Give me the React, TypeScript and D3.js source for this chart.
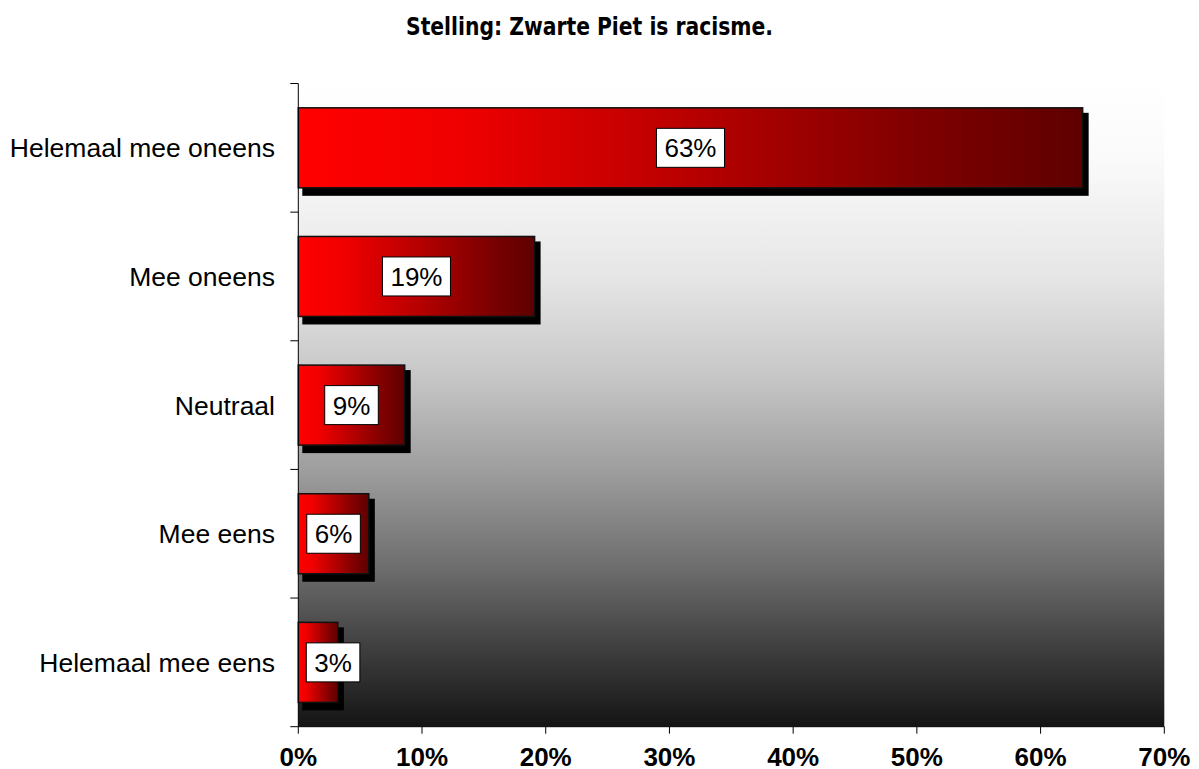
import React from "react";
import * as d3 from "d3";

const categories = [
  "Helemaal mee oneens",
  "Mee oneens",
  "Neutraal",
  "Mee eens",
  "Helemaal mee eens",
];
const values = [63.4, 19.1, 8.6, 5.7, 3.2];
const valueLabels = ["63%", "19%", "9%", "6%", "3%"];
const xTicks = [0, 10, 20, 30, 40, 50, 60, 70];
const title = "Stelling: Zwarte Piet is racisme.";

const W = 1199;
const H = 769;
const plot = { left: 298.3, right: 1164.3, top: 83.5, bottom: 726.7 };

export default function App() {
  const x = d3.scaleLinear().domain([0, 70]).range([plot.left, plot.right]);
  const y = d3
    .scaleBand<string>()
    .domain(categories)
    .range([plot.top, plot.bottom])
    .paddingInner(0.378)
    .paddingOuter(0.189);
  const step = y.step();
  const boundaries = d3.range(categories.length + 1).map((i) => plot.top + i * step);

  const charW = (s: string) => {
    let w = 0;
    for (const c of s) w += c === "%" ? 0.889 : 0.556;
    return w * 26;
  };

  return (
    <svg
      width={W}
      height={H}
      style={{ position: "absolute", left: 0, top: 0, background: "#fff" }}
      fontFamily="Arial, 'Liberation Sans', sans-serif"
    >
      <defs>
        <linearGradient id="bg" x1="0" y1="0" x2="0" y2="1">
          <stop offset="0" stopColor="#ffffff" />
          <stop offset="0.12" stopColor="#fafafa" />
          <stop offset="0.3" stopColor="#e6e6e6" />
          <stop offset="0.45" stopColor="#c8c8c8" />
          <stop offset="0.6" stopColor="#9e9e9e" />
          <stop offset="0.75" stopColor="#6e6e6e" />
          <stop offset="0.88" stopColor="#3e3e3e" />
          <stop offset="1" stopColor="#141414" />
        </linearGradient>
        <linearGradient id="bar" x1="0" y1="0" x2="1" y2="0">
          <stop offset="0" stopColor="#ff0000" />
          <stop offset="0.2" stopColor="#f00000" />
          <stop offset="0.5" stopColor="#b80000" />
          <stop offset="0.8" stopColor="#7e0000" />
          <stop offset="1" stopColor="#5e0000" />
        </linearGradient>
      </defs>

      <text
        x={589.5}
        y={35}
        textAnchor="middle"
        fontFamily="Tahoma, 'DejaVu Sans', Verdana, sans-serif"
        fontWeight="bold"
        fontSize={24}
        textLength={367}
        lengthAdjust="spacingAndGlyphs"
      >
        {title}
      </text>

      <rect
        x={plot.left}
        y={plot.top}
        width={plot.right - plot.left}
        height={plot.bottom - plot.top}
        fill="url(#bg)"
      />

      {categories.map((c, i) => {
        const by = y(c)!;
        const bh = y.bandwidth();
        const bx = x(0);
        const bw = x(values[i]) - x(0);
        return (
          <g key={c}>
            <rect x={bx + 4} y={by + 5} width={bw + 2} height={bh + 3} fill="#000" />
            <rect
              x={bx}
              y={by}
              width={bw}
              height={bh}
              fill="url(#bar)"
              stroke="#111"
              strokeWidth={1.5}
            />
          </g>
        );
      })}

      {categories.map((c, i) => {
        const cy = y(c)! + y.bandwidth() / 2;
        const cxBar = (x(0) + x(values[i])) / 2;
        const bw = charW(valueLabels[i]) + 16;
        const bh = 39;
        const cx = Math.max(cxBar, plot.left + 8 + bw / 2);
        return (
          <g key={c + "lab"}>
            <rect
              x={cx - bw / 2}
              y={cy - bh / 2}
              width={bw}
              height={bh}
              fill="#fff"
              stroke="#000"
              strokeWidth={1}
            />
            <text x={cx} y={cy + 9.5} textAnchor="middle" fontSize={26} fill="#000">
              {valueLabels[i]}
            </text>
          </g>
        );
      })}

      <line x1={plot.left} x2={plot.left} y1={plot.top} y2={plot.bottom} stroke="#000" strokeWidth={1} />
      {boundaries.map((b, i) => (
        <line key={"yt" + i} x1={plot.left - 8} x2={plot.left} y1={b} y2={b} stroke="#000" strokeWidth={1} />
      ))}
      {categories.map((c) => (
        <text
          key={c + "cat"}
          x={275}
          y={y(c)! + y.bandwidth() / 2 + 9.5}
          textAnchor="end"
          fontSize={26.5}
          fill="#000"
        >
          {c}
        </text>
      ))}

      <line x1={plot.left} x2={plot.right} y1={plot.bottom} y2={plot.bottom} stroke="#000" strokeWidth={1} />
      {xTicks.map((t) => (
        <g key={"xt" + t}>
          <line x1={x(t)} x2={x(t)} y1={plot.bottom} y2={plot.bottom + 7} stroke="#000" strokeWidth={1} />
          <text x={x(t)} y={766} textAnchor="middle" fontSize={26} fontWeight="bold" fill="#000">
            {t + "%"}
          </text>
        </g>
      ))}
    </svg>
  );
}
